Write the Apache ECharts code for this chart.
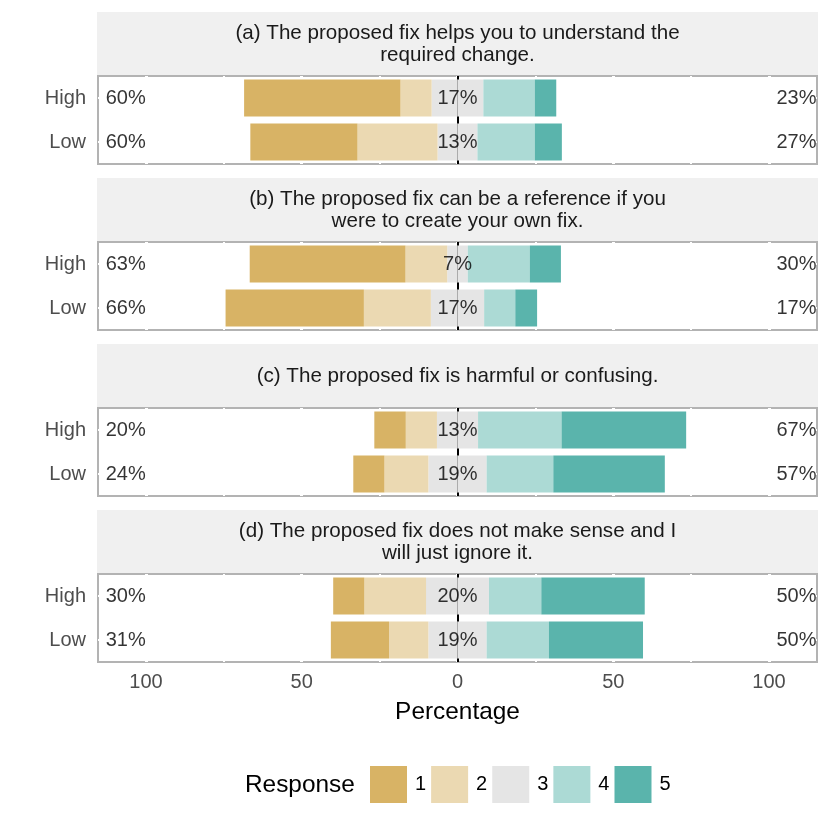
<!DOCTYPE html>
<html>
<head>
<meta charset="utf-8">
<script src="https://cdn.jsdelivr.net/npm/echarts@6/dist/echarts.min.js"></script>
<style>
  html, body { margin: 0; padding: 0; background: #fff; }
  #chart { width: 830px; height: 830px; }
</style>
</head>
<body>
<div id="chart"></div>
<script>
var facetTitles = [
    '(a) The proposed fix helps you to understand the\nrequired change.',
    '(b) The proposed fix can be a reference if you\nwere to create your own fix.',
    '(c) The proposed fix is harmful or confusing.',
    '(d) The proposed fix does not make sense and I\nwill just ignore it.'
];
var groups = ['High', 'Low'];
var responses = ['1', '2', '3', '4', '5'];
// share of answers (%) per facet, [High, Low]
var resp1 = [[50.2, 34.4], [50.0, 44.4], [10.1, 10.0], [10.0, 18.7]];
var resp2 = [[10.0, 25.7], [13.4, 21.5], [10.0, 14.1], [19.8, 12.6]];
var resp3 = [[16.6, 12.8], [6.6, 17.1], [13.2, 18.7], [20.2, 18.7]];
var resp4 = [[16.5, 18.4], [19.9, 10.0], [26.8, 21.4], [16.8, 20.0]];
var resp5 = [[6.9, 8.7], [10.0, 7.0], [40.0, 35.8], [33.2, 30.2]];

var font = "'Liberation Sans', Arial, sans-serif";
var colorList = ['#D8B365', '#EBD9B2', '#E5E5E5', '#ACDAD5', '#5AB4AC'];
var xMax = 115.4;
var panelLeft = 98, panelW = 719, panelH = 88, step = 166;
var pxPerUnit = panelW / (2 * xMax);
var centerX = panelLeft + panelW / 2;

var grids = [], xAxes = [], yAxes = [], series = [], graphics = [];

function pct(v) {
    return Math.round(v) + '%';
}

facetTitles.forEach(function (title, f) {
    var top = 76 + f * step;
    var last = f === facetTitles.length - 1;

    // strip
    graphics.push({
        type: 'rect', silent: true,
        shape: { x: 97, y: 12 + f * step, width: 721, height: 63 },
        style: { fill: '#F0F0F0' }
    });
    graphics.push({
        type: 'text', silent: true, x: centerX, y: 44 + f * step,
        style: {
            text: title, fill: '#1A1A1A', font: '20.6px ' + font, lineHeight: 22,
            align: 'center', verticalAlign: 'middle',
            textAlign: 'center', textVerticalAlign: 'middle'
        }
    });

    // panel with bars
    grids.push({
        left: panelLeft, top: top, width: panelW, height: panelH,
        show: true, backgroundColor: '#fff', borderColor: '#B3B3B3', borderWidth: 2
    });
    // overlay for vertical grid lines and ticks
    grids.push({
        left: centerX - 100 * pxPerUnit, top: top, width: 200 * pxPerUnit, height: panelH
    });

    var gA = 2 * f, gC = 2 * f + 1;
    xAxes.push({ gridIndex: gA, type: 'value', min: -xMax, max: xMax, show: false });
    xAxes.push({
        gridIndex: gC, type: 'value', min: -100, max: 100, interval: 50, z: 1,
        axisLine: { show: false },
        axisTick: { show: false },
        axisLabel: {
            show: last, color: '#4D4D4D', fontSize: 20, fontFamily: font, margin: 10,
            formatter: function (v) { return String(Math.abs(v)); }
        },
        splitLine: { show: true, lineStyle: { color: '#fff', width: 3 } },
        minorTick: { show: false, splitNumber: 2 },
        minorSplitLine: { show: true, lineStyle: { color: '#fff', width: 2 } },
        name: last ? 'Percentage' : '',
        nameLocation: 'middle',
        nameGap: 38,
        nameTextStyle: { color: '#000', fontSize: 24.4, fontFamily: font }
    });

    yAxes.push({
        gridIndex: gA, type: 'category', data: groups, inverse: true,
        axisLine: { show: false }, axisTick: { show: false }, splitLine: { show: false },
        axisLabel: { color: '#4D4D4D', fontSize: 20, fontFamily: font, margin: 12 }
    });
    yAxes.push({
        gridIndex: gA, type: 'value', position: 'right', min: 0, max: 4, interval: 1,
        axisLine: { show: false }, axisTick: { show: false }, axisLabel: { show: false },
        splitLine: {
            show: true,
            lineStyle: { color: ['transparent', '#fff', 'transparent', '#fff', 'transparent'], width: 2 }
        }
    });
    yAxes.push({ gridIndex: gC, type: 'value', show: false });

    var neg = function (arr) { return arr.map(function (v) { return -v; }); };
    var half = function (arr, s) { return arr.map(function (v) { return s * v / 2; }); };
    var segs = [
        { name: '3', data: half(resp3[f], -1), color: colorList[2] },
        { name: '3', data: half(resp3[f], 1), color: colorList[2] },
        { name: '2', data: neg(resp2[f]), color: colorList[1] },
        { name: '4', data: resp4[f], color: colorList[3] },
        { name: '1', data: neg(resp1[f]), color: colorList[0] },
        { name: '5', data: resp5[f], color: colorList[4] }
    ];
    segs.forEach(function (s, i) {
        var item = {
            name: s.name, type: 'bar', stack: 'facet' + f,
            xAxisIndex: 2 * f, yAxisIndex: 3 * f,
            barWidth: 37, z: 3,
            itemStyle: { color: s.color },
            emphasis: { disabled: true },
            data: s.data
        };
        if (i === 0) {
            item.markLine = {
                z: 2, silent: true, symbol: 'none',
                label: { show: false },
                lineStyle: { color: '#000', width: 2, type: 'solid' },
                data: [{ xAxis: 0 }]
            };
        }
        series.push(item);
    });

    var labelData = [];
    groups.forEach(function (g, i) {
        labelData.push({ value: [-113.1, g], name: pct(resp1[f][i] + resp2[f][i]), label: { position: 'right' } });
        labelData.push({ value: [0, g], name: pct(resp3[f][i]), label: { position: 'inside' } });
        labelData.push({ value: [xMax, g], name: pct(resp4[f][i] + resp5[f][i]), label: { position: 'left' } });
    });
    series.push({
        type: 'scatter', xAxisIndex: 2 * f, yAxisIndex: 3 * f, z: 4,
        symbolSize: 1, silent: true,
        itemStyle: { color: 'rgba(0,0,0,0)' },
        label: { show: true, formatter: '{b}', distance: 0, color: '#000', fontSize: 20, fontFamily: font },
        data: labelData
    });
});

graphics.push({
    type: 'text', silent: true, x: 245, y: 785,
    style: {
        text: 'Response', fill: '#000', font: '24.4px ' + font,
        align: 'left', verticalAlign: 'middle', textAlign: 'left', textVerticalAlign: 'middle'
    }
});

var option = {
    animation: false,
    backgroundColor: '#fff',
    grid: grids,
    xAxis: xAxes,
    yAxis: yAxes,
    legend: {
        data: responses,
        left: 370, top: 766, padding: 0,
        itemWidth: 37, itemHeight: 37, itemGap: 5,
        icon: 'rect', selectedMode: false,
        textStyle: { color: '#000', fontSize: 20, fontFamily: font, padding: [0, 0, 0, 3] }
    },
    graphic: graphics,
    series: series
};

var chart = echarts.init(document.getElementById('chart'));
chart.setOption(option);
</script>
</body>
</html>
